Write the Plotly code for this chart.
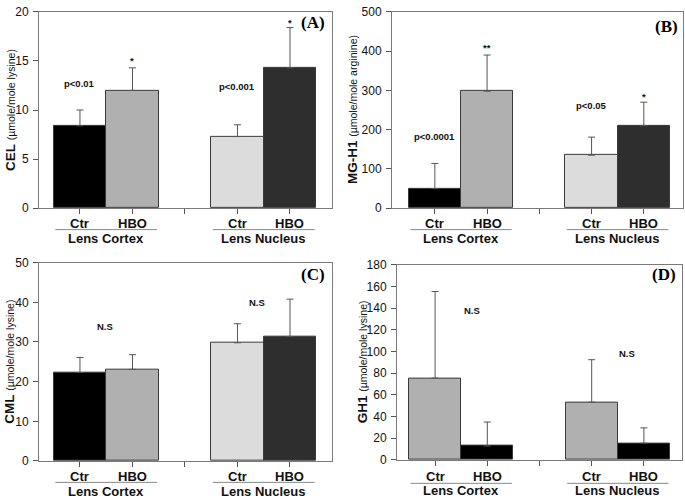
import plotly.graph_objects as go

W, H = 685, 502

positions = [1, 2, 4, 5]
group_labels = ["Ctr", "HBO", "Ctr", "HBO"]
region_labels = ["Lens Cortex", "Lens Nucleus"]
region_centers = [1.5, 4.5]

A_vals = [8.4, 12.0, 7.3, 14.3]
A_err = [1.6, 2.3, 1.2, 4.1]
B_vals = [50, 298, 135, 210]
B_err = [64, 92, 46, 60]
C_vals = [22.3, 23.1, 29.8, 31.4]
C_err = [3.8, 3.7, 4.8, 9.4]
D_vals = [75.4, 12.9, 53.2, 15.5]
D_err = [79.8, 22.1, 39.2, 14.1]

A_notes = [(1, 12.7, "p<0.01"), (2, 15.0, "*"), (4, 12.4, "p<0.001"), (5, 18.9, "*")]
B_notes = [(1, 183, "p<0.0001"), (2, 410, "**"), (4, 262, "p<0.05"), (5, 285, "*")]
C_notes = [(1.48, 34, "N.S"), (4.37, 40, "N.S")]
D_notes = [(1.7, 138, "N.S"), (4.67, 98.5, "N.S")]

colors_abc = ["#000000", "#b0b0b0", "#dcdcdc", "#2e2e2e"]
colors_d = ["#b0b0b0", "#000000", "#b0b0b0", "#000000"]

# panel geometry in pixels: (left, right, top, bottom)
panels = [
    dict(vals=A_vals, err=A_err, colors=colors_abc, notes=A_notes, label="(A)",
         px=(39, 332, 5, 207), yr=[0, 20], dt=5, xr=[0.22, 5.8],
         ytitle=("CEL", "(µmole/mole lysine)"), tx=10, lab=(0.983, 0.945),
         offs=(16, 22, 31)),
    dict(vals=B_vals, err=B_err, colors=colors_abc, notes=B_notes, label="(B)",
         px=(392, 683, 5, 207), yr=[0, 500], dt=100, xr=[0.18, 5.75],
         ytitle=("MG-H1", "(µmole/mole arginine)"), tx=352, lab=(0.99, 0.925),
         offs=(16, 22, 31)),
    dict(vals=C_vals, err=C_err, colors=colors_abc, notes=C_notes, label="(C)",
         px=(39, 332, 263, 467), yr=[0, 50], dt=10, xr=[0.22, 5.8],
         ytitle=("CML", "(µmole/mole lysine)"), tx=10, lab=(0.983, 0.94),
         offs=(16, 22, 31)),
    dict(vals=D_vals, err=D_err, colors=colors_d, notes=D_notes, label="(D)",
         px=(397, 682, 265, 466), yr=[0, 180], dt=20, xr=[0.27, 5.73],
         ytitle=("GH1", "(µmole/mole lysine)"), tx=362, lab=(0.986, 0.95),
         offs=(17, 24, 31)),
]

fig = go.Figure()
annotations = []
shapes = []
bold = "Liberation Sans, Arial, sans-serif"

for i, p in enumerate(panels):
    k = "" if i == 0 else str(i + 1)
    xa, ya = "x" + k, "y" + k
    l, r, t, b = p["px"]
    fig.add_trace(go.Bar(
        x=positions, y=p["vals"], width=1.0,
        marker=dict(color=p["colors"], line=dict(color="#3a3a3a", width=1)),
        error_y=dict(type="data", symmetric=False, array=p["err"],
                     arrayminus=[0] * 4, color="#555555", thickness=1, width=3.5),
        xaxis=xa, yaxis=ya, showlegend=False, hoverinfo="skip",
    ))
    axis_common = dict(showline=True, mirror=True, linecolor="#7a7a7a", linewidth=1,
                       showgrid=False, zeroline=False, ticks="outside", ticklen=5,
                       tickcolor="#555555", tickwidth=1, fixedrange=True)
    fig.layout["xaxis" + k] = dict(
        domain=[l / W, r / W], range=p["xr"], anchor=ya,
        tickvals=[1, 2, 3, 4, 5], ticktext=["", "", "", "", ""], **axis_common)
    fig.layout["yaxis" + k] = dict(
        domain=[(H - b) / H, (H - t) / H], range=p["yr"], anchor=xa,
        tickmode="linear", tick0=0, dtick=p["dt"],
        tickfont=dict(family=bold, size=12, color="#111111"),
        ticklabelstandoff=2, **axis_common)

    # category labels below axis
    o1, o2, o3 = p["offs"]
    for pos, g in zip(positions, group_labels):
        annotations.append(dict(x=pos, y=(H - (b + o1)) / H, xref=xa, yref="paper",
                                text="<b>%s</b>" % g, showarrow=False,
                                font=dict(family=bold, size=13, color="#111111"),
                                xanchor="center", yanchor="middle"))
    for c, rl in zip(region_centers, region_labels):
        shapes.append(dict(type="line", xref=xa, yref="paper",
                           x0=c - 0.97, x1=c + 0.97,
                           y0=(H - (b + o2)) / H, y1=(H - (b + o2)) / H,
                           line=dict(color="#888888", width=1)))
        annotations.append(dict(x=c, y=(H - (b + o3)) / H, xref=xa, yref="paper",
                                text="<b>%s</b>" % rl, showarrow=False,
                                font=dict(family=bold, size=13, color="#111111"),
                                xanchor="center", yanchor="middle"))
    # significance notes
    for nx, ny, txt in p["notes"]:
        annotations.append(dict(x=nx, y=ny, xref=xa, yref=ya, text="<b>%s</b>" % txt,
                                showarrow=False,
                                font=dict(family=bold, size=9.5, color="#111111"),
                                xanchor="center", yanchor="middle"))
    # panel label
    annotations.append(dict(x=p["lab"][0], y=p["lab"][1], xref=xa + " domain",
                            yref=ya + " domain", text="<b>%s</b>" % p["label"],
                            showarrow=False, xanchor="right", yanchor="middle",
                            font=dict(family="Liberation Serif, Times New Roman, serif",
                                      size=17, color="#000000")))
    # y-axis title
    main, unit = p["ytitle"]
    annotations.append(dict(x=p["tx"] / W, y=(H - (t + b) / 2) / H, xref="paper",
                            yref="paper", textangle=-90, showarrow=False,
                            text="<b>%s</b> <span style='font-size:10.5px'>%s</span>" % (main, unit),
                            font=dict(family=bold, size=13.5, color="#111111"),
                            xanchor="center", yanchor="middle"))

fig.update_layout(
    width=W, height=H, margin=dict(l=0, r=0, t=0, b=0),
    paper_bgcolor="white", plot_bgcolor="white",
    annotations=annotations, shapes=shapes, bargap=0,
)

fig.write_html("out.html", config={"displayModeBar": False},
               post_script="document.body.style.margin='0';document.body.style.overflow='hidden';")
